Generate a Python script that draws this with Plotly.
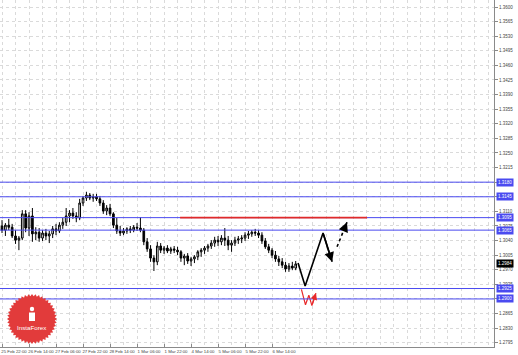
import numpy as np
import plotly.graph_objects as go

# ---------------- data ----------------
bar_hours = list(range(-2, 177, 2))  # trading hours since 25 Feb 22:00 (2h bars)

opens = [1.3070, 1.3075, 1.3065, 1.3077, 1.3072, 1.3051, 1.3041, 1.3046, 1.3104, 1.3070,
         1.3099, 1.3056, 1.3060, 1.3046, 1.3058, 1.3051, 1.3056, 1.3068, 1.3063, 1.3077,
         1.3084, 1.3099, 1.3106, 1.3099, 1.3094, 1.3130, 1.3142, 1.3149, 1.3142, 1.3145,
         1.3140, 1.3130, 1.3111, 1.3118, 1.3104, 1.3077, 1.3063, 1.3058, 1.3063, 1.3068,
         1.3065, 1.3072, 1.3070, 1.3065, 1.3037, 1.3020, 1.2998, 1.2989, 1.3027, 1.3017,
         1.3022, 1.3015, 1.3020, 1.3017, 1.3013, 1.2998, 1.3003, 1.2991, 1.2996, 1.3001,
         1.3013, 1.3017, 1.3022, 1.3027, 1.3034, 1.3041, 1.3037, 1.3046, 1.3041, 1.3029,
         1.3034, 1.3041, 1.3044, 1.3046, 1.3053, 1.3056, 1.3060, 1.3058, 1.3053, 1.3039,
         1.3025, 1.3017, 1.3005, 1.2996, 1.2989, 1.2981, 1.2972, 1.2979, 1.2974]
highs = [1.3084, 1.3089, 1.3082, 1.3092, 1.3080, 1.3065, 1.3051, 1.3113, 1.3113, 1.3108,
         1.3118, 1.3072, 1.3070, 1.3065, 1.3068, 1.3063, 1.3075, 1.3080, 1.3084, 1.3094,
         1.3118, 1.3113, 1.3118, 1.3108, 1.3140, 1.3147, 1.3157, 1.3154, 1.3152, 1.3152,
         1.3147, 1.3137, 1.3125, 1.3128, 1.3108, 1.3094, 1.3075, 1.3070, 1.3072, 1.3075,
         1.3077, 1.3082, 1.3096, 1.3070, 1.3046, 1.3029, 1.3005, 1.3037, 1.3034, 1.3027,
         1.3029, 1.3025, 1.3027, 1.3025, 1.3017, 1.3008, 1.3010, 1.3001, 1.3005, 1.3017,
         1.3022, 1.3027, 1.3032, 1.3041, 1.3049, 1.3051, 1.3053, 1.3070, 1.3051, 1.3041,
         1.3049, 1.3051, 1.3053, 1.3060, 1.3063, 1.3065, 1.3068, 1.3065, 1.3060, 1.3046,
         1.3032, 1.3022, 1.3015, 1.3003, 1.2998, 1.2989, 1.2986, 1.2989, 1.2991]
lows = [1.3056, 1.3058, 1.3051, 1.3065, 1.3046, 1.3032, 1.3017, 1.3041, 1.3060, 1.3051,
        1.3037, 1.3041, 1.3037, 1.3039, 1.3041, 1.3034, 1.3046, 1.3053, 1.3058, 1.3068,
        1.3075, 1.3084, 1.3092, 1.3084, 1.3089, 1.3123, 1.3135, 1.3137, 1.3133, 1.3135,
        1.3123, 1.3104, 1.3101, 1.3099, 1.3070, 1.3056, 1.3051, 1.3053, 1.3056, 1.3058,
        1.3060, 1.3063, 1.3060, 1.3029, 1.3013, 1.2989, 1.2967, 1.2981, 1.3010, 1.3008,
        1.3010, 1.3008, 1.3010, 1.3005, 1.2989, 1.2981, 1.2984, 1.2979, 1.2986, 1.2993,
        1.3001, 1.3008, 1.3013, 1.3020, 1.3025, 1.3027, 1.3029, 1.3027, 1.3017, 1.3013,
        1.3027, 1.3032, 1.3034, 1.3039, 1.3044, 1.3049, 1.3051, 1.3046, 1.3032, 1.3020,
        1.3010, 1.2998, 1.2989, 1.2979, 1.2974, 1.2965, 1.2965, 1.2969, 1.2969]
closes = [1.3075, 1.3065, 1.3077, 1.3072, 1.3051, 1.3041, 1.3046, 1.3104, 1.3070, 1.3099,
          1.3056, 1.3060, 1.3046, 1.3058, 1.3051, 1.3056, 1.3068, 1.3063, 1.3077, 1.3084,
          1.3099, 1.3106, 1.3099, 1.3094, 1.3130, 1.3142, 1.3149, 1.3142, 1.3145, 1.3140,
          1.3130, 1.3111, 1.3118, 1.3104, 1.3077, 1.3063, 1.3058, 1.3063, 1.3068, 1.3065,
          1.3072, 1.3070, 1.3065, 1.3037, 1.3020, 1.2998, 1.2989, 1.3027, 1.3017, 1.3022,
          1.3015, 1.3020, 1.3017, 1.3013, 1.2998, 1.3003, 1.2991, 1.2996, 1.3001, 1.3013,
          1.3017, 1.3022, 1.3027, 1.3034, 1.3041, 1.3037, 1.3046, 1.3041, 1.3029, 1.3034,
          1.3041, 1.3044, 1.3046, 1.3053, 1.3056, 1.3060, 1.3058, 1.3053, 1.3039, 1.3025,
          1.3017, 1.3005, 1.2996, 1.2989, 1.2981, 1.2972, 1.2979, 1.2974, 1.2984]

blue_levels = [1.3180, 1.3145, 1.3095, 1.3065, 1.2925, 1.2900]
current_price = 1.2984
red_level = 1.3095
red_level_hours = [105.5, 216.3]

proj_hours = [175.4, 179.6, 190.2]
proj_prices = [1.2986, 1.2931, 1.3058]
proj_head_hour, proj_head_price = 195.6, 1.2989
dash_hours = [198.5, 204.4]
dash_prices = [1.3025, 1.3084]
red_arrow_hours = [177.4, 179.8, 181.8, 183.6, 186.0]
red_arrow_prices = [1.2923, 1.2886, 1.2909, 1.2884, 1.2914]

x_tick_hours = [0, 16, 32, 48, 64, 80, 96, 112, 128, 144, 160]
x_tick_labels = ["25 Feb 22:00", "26 Feb 14:00", "27 Feb 06:00", "27 Feb 22:00",
                 "28 Feb 14:00", "1 Mar 06:00", "1 Mar 22:00", "4 Mar 14:00",
                 "5 Mar 06:00", "5 Mar 22:00", "6 Mar 14:00"]
y_tick_vals = [1.2795, 1.2830, 1.2865, 1.2900, 1.2935, 1.2970, 1.3005, 1.3040,
               1.3075, 1.3110, 1.3145, 1.3180, 1.3215, 1.3250, 1.3285, 1.3320,
               1.3355, 1.3390, 1.3425, 1.3460, 1.3495, 1.3530, 1.3565, 1.3600]

# ---------------- figure ----------------
W, H = 518, 355
ML, MR, MT, MB = 0, 24, 0, 8
PW, PH = W - ML - MR, H - MT - MB

BLUE = "#4a4af0"
GRID = "#dadada"
fig = go.Figure()

fig.add_trace(go.Candlestick(
    x=bar_hours, open=opens, high=highs, low=lows, close=closes,
    increasing=dict(line=dict(color="black", width=1), fillcolor="white"),
    decreasing=dict(line=dict(color="black", width=1), fillcolor="black"),
    whiskerwidth=0, showlegend=False, hoverinfo="skip"))

fig.add_trace(go.Scatter(x=proj_hours + [proj_head_hour], y=proj_prices + [proj_head_price],
                         mode="lines", line=dict(color="black", width=1.6),
                         showlegend=False, hoverinfo="skip"))
fig.add_trace(go.Scatter(x=dash_hours, y=dash_prices, mode="lines",
                         line=dict(color="black", width=1.6, dash="3px,3px"),
                         showlegend=False, hoverinfo="skip"))
fig.add_trace(go.Scatter(x=red_arrow_hours, y=red_arrow_prices, mode="lines",
                         line=dict(color="#e8282a", width=1.2),
                         showlegend=False, hoverinfo="skip"))

shapes = []
for lv in blue_levels:
    shapes.append(dict(type="line", xref="paper", yref="y", x0=0, x1=1, y0=lv, y1=lv,
                       line=dict(color=BLUE, width=1)))
shapes.append(dict(type="line", xref="x", yref="y", x0=red_level_hours[0], x1=red_level_hours[1],
                   y0=red_level, y1=red_level, line=dict(color="#e02a2a", width=1.6)))

# logo (decorative, paper coords)
cx, cy, r1, r2 = 32, 319, 25, 22.8
n = 44
pts = []
for k in range(n * 2):
    a = np.pi * k / n
    rr = r1 if k % 2 == 0 else r2
    px = cx + rr * np.cos(a)
    py = cy + rr * np.sin(a)
    pts.append((px / PW, 1 - py / PH))
path = "M " + " L ".join(f"{x:.5f},{y:.5f}" for x, y in pts) + " Z"
shapes.append(dict(type="path", xref="paper", yref="paper", path=path,
                   fillcolor="#e23b3b", line=dict(width=0)))
# small icon
shapes.append(dict(type="circle", xref="paper", yref="paper",
                   x0=(cx - 2.2) / PW, x1=(cx + 2.2) / PW,
                   y0=1 - (309 + 2.2) / PH, y1=1 - (309 - 2.2) / PH,
                   fillcolor="white", line=dict(width=0)))
shapes.append(dict(type="rect", xref="paper", yref="paper",
                   x0=(cx - 3) / PW, x1=(cx + 3) / PW,
                   y0=1 - 321 / PH, y1=1 - 312.5 / PH,
                   fillcolor="white", line=dict(width=0)))

annotations = []
annotations.append(dict(x=proj_head_hour, y=proj_head_price, ax=proj_hours[-1], ay=proj_prices[-1],
                        xref="x", yref="y", axref="x", ayref="y", text="", showarrow=True,
                        arrowhead=2, arrowsize=1.2, arrowwidth=1.6, arrowcolor="black"))
annotations.append(dict(x=dash_hours[1], y=dash_prices[1],
                        ax=dash_hours[1] - 1.5, ay=dash_prices[1] - 0.0015,
                        xref="x", yref="y", axref="x", ayref="y", text="", showarrow=True,
                        arrowhead=2, arrowsize=1.2, arrowwidth=1.6, arrowcolor="black"))
annotations.append(dict(x=red_arrow_hours[-1], y=red_arrow_prices[-1],
                        ax=red_arrow_hours[-2], ay=red_arrow_prices[-2],
                        xref="x", yref="y", axref="x", ayref="y", text="", showarrow=True,
                        arrowhead=2, arrowsize=1.1, arrowwidth=1.2, arrowcolor="#e8282a"))
for lv in blue_levels:
    annotations.append(dict(x=1.004, y=lv, xref="paper", yref="y", xanchor="left", yanchor="middle",
                            text=f"{lv:.4f}", showarrow=False, bgcolor=BLUE,
                            font=dict(color="white", size=4.5, family="Liberation Sans"),
                            borderpad=1))
annotations.append(dict(x=1.004, y=current_price, xref="paper", yref="y", xanchor="left",
                        yanchor="middle", text=f"{current_price:.4f}", showarrow=False,
                        bgcolor="black", font=dict(color="white", size=4.5, family="Liberation Sans"),
                        borderpad=1))
annotations.append(dict(x=cx / PW, y=1 - 327 / PH, xref="paper", yref="paper",
                        xanchor="center", yanchor="middle",
                        text="InstaForex", showarrow=False,
                        font=dict(color="white", size=6.2, family="Liberation Sans")))

fig.update_layout(
    width=W, height=H, margin=dict(l=ML, r=MR, t=MT, b=MB, autoexpand=False),
    paper_bgcolor="white", plot_bgcolor="white",
    shapes=shapes, annotations=annotations, showlegend=False,
    xaxis=dict(range=[-1.2, 291.5], tickvals=x_tick_hours, ticktext=x_tick_labels,
               tickangle=0, automargin=False,
               showgrid=True, gridcolor=GRID, griddash="dot", gridwidth=1,
               minor=dict(dtick=8, tick0=0, showgrid=True, gridcolor=GRID, griddash="dot"),
               showline=True, linecolor="#8a8a8a", linewidth=1,
               ticks="inside", ticklen=3, tickcolor="#8a8a8a",
               tickfont=dict(size=4.3, family="Liberation Sans", color="#444"),
               ticklabelshift=12, ticklabelstandoff=0,
               rangeslider=dict(visible=False), zeroline=False, fixedrange=True),
    yaxis=dict(range=[1.27848, 1.36168], side="right", tickvals=y_tick_vals,
               ticktext=[f"{v:.4f}" for v in y_tick_vals], automargin=False,
               showgrid=True, gridcolor=GRID, griddash="dot", gridwidth=1,
               showline=True, linecolor="#8a8a8a", linewidth=1,
               ticks="outside", ticklen=3, tickcolor="#8a8a8a",
               tickfont=dict(size=4.5, family="Liberation Sans", color="#444"),
               zeroline=False, fixedrange=True),
)

fig.write_html("out.html")
